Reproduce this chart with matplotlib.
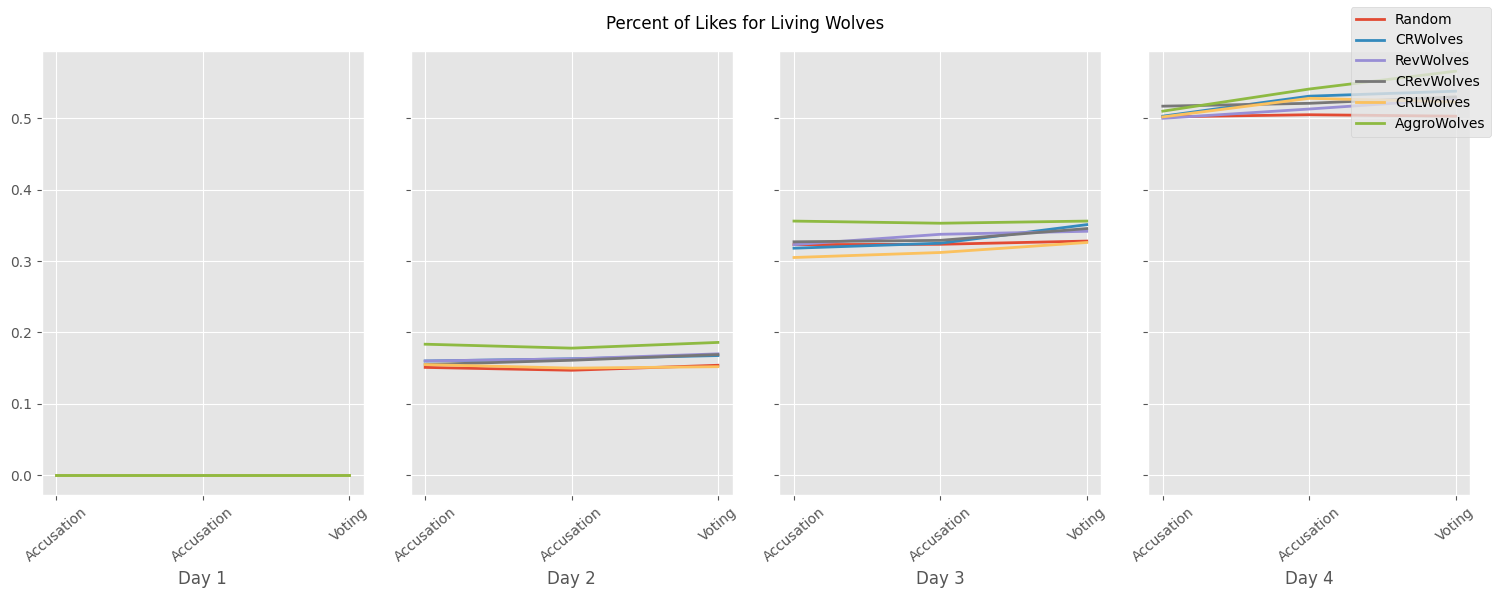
import matplotlib.pyplot as plt

plt.style.use("ggplot")

strategies = ["Random", "CRWolves", "RevWolves", "CRevWolves", "CRLWolves", "AggroWolves"]
phases = ["Accusation", "Accusation", "Voting"]
days = ["Day 1", "Day 2", "Day 3", "Day 4"]

# percent of likes per strategy, one list per day (accusation, accusation, voting)
random_likes = [[0.0, 0.0, 0.0], [0.151, 0.147, 0.154], [0.323, 0.3235, 0.328], [0.502, 0.505, 0.503]]
crwolves_likes = [[0.0, 0.0, 0.0], [0.160, 0.163, 0.1676], [0.318, 0.325, 0.351], [0.503, 0.531, 0.538]]
revwolves_likes = [[0.0, 0.0, 0.0], [0.160, 0.163, 0.170], [0.323, 0.3375, 0.3417], [0.500, 0.513, 0.527]]
crevwolves_likes = [[0.0, 0.0, 0.0], [0.155, 0.161, 0.169], [0.327, 0.329, 0.3455], [0.517, 0.521, 0.530]]
crlwolves_likes = [[0.0, 0.0, 0.0], [0.155, 0.150, 0.152], [0.305, 0.312, 0.326], [0.502, 0.528, 0.523]]
aggrowolves_likes = [[0.0, 0.0, 0.0], [0.1835, 0.178, 0.186], [0.356, 0.353, 0.356], [0.510, 0.541, 0.566]]

all_likes = [random_likes, crwolves_likes, revwolves_likes,
             crevwolves_likes, crlwolves_likes, aggrowolves_likes]

fig, axes = plt.subplots(1, 4, figsize=(15, 6), dpi=100, sharey=True)

for d, ax in enumerate(axes):
    for name, likes in zip(strategies, all_likes):
        ax.plot(range(len(phases)), likes[d], label=name, linewidth=2)
    ax.set_xticks(range(len(phases)))
    ax.set_xticklabels(phases, rotation=40)
    ax.set_xlabel(days[d])

handles, labels = axes[0].get_legend_handles_labels()
fig.legend(handles, labels, loc="upper right")
fig.suptitle("Percent of Likes for Living Wolves")
fig.tight_layout()
fig.savefig("out.png", bbox_inches="tight")
